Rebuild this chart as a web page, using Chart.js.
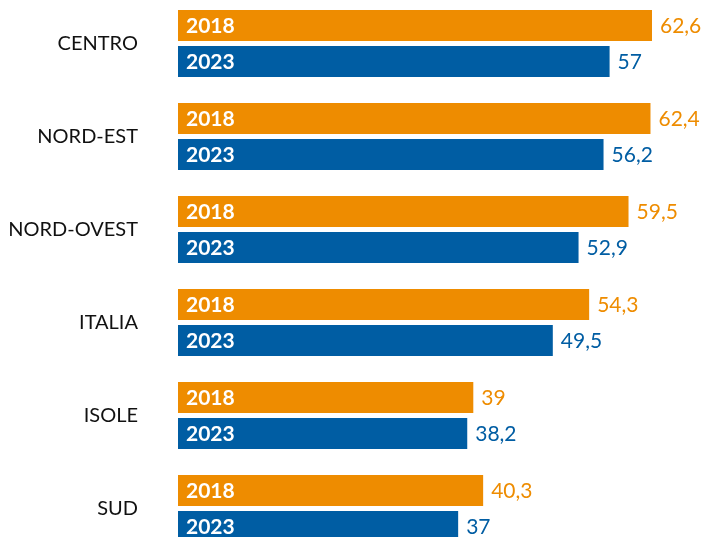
<!DOCTYPE html>
<html>
<head>
<meta charset="utf-8">
<script src="https://cdn.jsdelivr.net/npm/chart.js@4"></script>
<style>
  html, body { margin: 0; padding: 0; background: #ffffff; overflow: hidden; width: 705px; height: 537px; }
  #c { position: absolute; left: 0; top: -3px; width: 705px; height: 558px; }
</style>
</head>
<body>
<canvas id="c" width="705" height="558"></canvas>
<script>
const categories = ["CENTRO", "NORD-EST", "NORD-OVEST", "ITALIA", "ISOLE", "SUD"];
const seriesNames = ["2018", "2023"];
const values2018 = [62.6, 62.4, 59.5, 54.3, 39, 40.3];
const values2023 = [57, 56.2, 52.9, 49.5, 38.2, 37];

const ORANGE = "#EE8C00";
const BLUE = "#005DA3";

function fmt(v) {
  return String(v).replace(".", ",");
}

const labelPlugin = {
  id: "barLabels",
  afterDatasetsDraw(chart) {
    const ctx = chart.ctx;
    ctx.save();
    chart.data.datasets.forEach((ds, di) => {
      const meta = chart.getDatasetMeta(di);
      meta.data.forEach((bar, i) => {
        const y = bar.y;
        ctx.font = "bold 21px Lato";
        ctx.fillStyle = "#ffffff";
        ctx.textAlign = "left";
        ctx.textBaseline = "middle";
        ctx.fillText(ds.label, bar.base + 8, y + 1);
        ctx.font = "21px Lato";
        ctx.fillStyle = ds.backgroundColor;
        ctx.fillText(fmt(ds.data[i]), bar.x + 8, y + 1);
      });
    });
    ctx.restore();
  }
};

new Chart(document.getElementById("c"), {
  type: "bar",
  data: {
    labels: categories,
    datasets: [
      { label: seriesNames[0], data: values2018, backgroundColor: ORANGE, categoryPercentage: 0.774, barPercentage: 0.861 },
      { label: seriesNames[1], data: values2023, backgroundColor: BLUE, categoryPercentage: 0.774, barPercentage: 0.861 }
    ]
  },
  options: {
    indexAxis: "y",
    responsive: false,
    maintainAspectRatio: false,
    devicePixelRatio: 1,
    animation: false,
    layout: { padding: 0 },
    plugins: { legend: { display: false }, tooltip: { enabled: false } },
    scales: {
      x: {
        display: false,
        min: 0,
        max: 69.6
      },
      y: {
        grid: { display: false, drawTicks: false },
        border: { display: false },
        ticks: {
          color: "#111111",
          font: { family: "Lato", size: 20 },
          padding: 40
        },
        afterFit(scale) {
          scale.width = 178;
          scale.paddingTop = 0;
          scale.paddingBottom = 0;
        }
      }
    }
  },
  plugins: [labelPlugin]
});
</script>
</body>
</html>
